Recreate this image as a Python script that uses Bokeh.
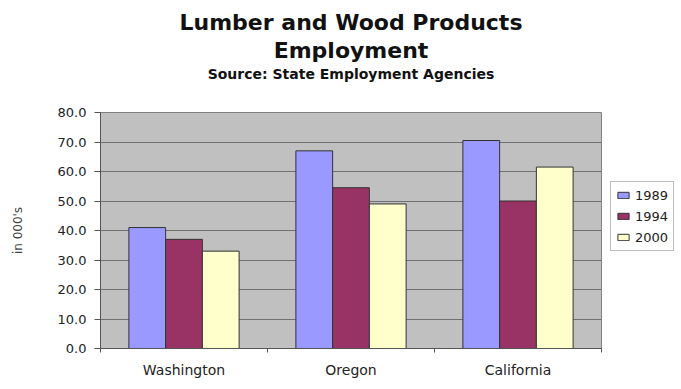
from bokeh.plotting import figure
from bokeh.models import (Range1d, Title, Legend, LegendItem,
                          ColumnDataSource, FixedTicker, NumeralTickFormatter,
                          LinearAxis)
from bokeh.transform import dodge
from bokeh.embed import file_html
from bokeh.resources import INLINE

# ---- data ----
states = ["Washington", "Oregon", "California"]
years = ["1989", "1994", "2000"]
emp_1989 = [41.0, 67.0, 70.5]
emp_1994 = [37.0, 54.5, 50.0]
emp_2000 = [33.0, 49.0, 61.5]
y_ticks = [0, 10, 20, 30, 40, 50, 60, 70, 80]

colors = ["#9999FF", "#993366", "#FFFFCC"]
FONT = "DejaVu Sans"

# category slots: each state occupies one unit on the x scale
centers = [i + 0.5 for i in range(len(states))]
boundaries = list(range(len(states) + 1))

source = ColumnDataSource(dict(state=states, xc=centers, y1989=emp_1989,
                               y1994=emp_1994, y2000=emp_2000))

p = figure(x_range=Range1d(0, len(states)),
           y_range=Range1d(0, 80),
           frame_width=501, frame_height=236,
           min_border_left=100, min_border_right=80,
           min_border_top=112, min_border_bottom=41,
           x_axis_location=None,
           output_backend="svg", toolbar_location=None, title=None)

p.background_fill_color = "#C0C0C0"
p.border_fill_color = "white"
p.outline_line_color = "#808080"
p.outline_line_width = 1

# titles (first added sits closest to the plot)
p.add_layout(Title(text=" ", text_font=FONT, text_font_size="25px", standoff=0), "above")
p.add_layout(Title(text="Source: State Employment Agencies", align="center",
                   text_font=FONT, text_font_size="14px", text_font_style="bold",
                   text_color="#111111", standoff=0), "above")
p.add_layout(Title(text="Employment", align="center",
                   text_font=FONT, text_font_size="22px", text_font_style="bold",
                   text_color="#111111", standoff=2), "above")
p.add_layout(Title(text="Lumber and Wood Products", align="center",
                   text_font=FONT, text_font_size="22px", text_font_style="bold",
                   text_color="#111111", standoff=0), "above")

offsets = [-0.22, 0.0, 0.22]
cols = ["y1989", "y1994", "y2000"]
renderers = []
for off, col, c in zip(offsets, cols, colors):
    r = p.vbar(x=dodge("xc", off), top=col, width=0.22,
               source=source, fill_color=c, line_color="#333333", line_width=1)
    renderers.append(r)

# y axis
p.yaxis.ticker = FixedTicker(ticks=y_ticks)
p.yaxis.formatter = NumeralTickFormatter(format="0.0")
p.yaxis.axis_label = "in 000's"
p.yaxis.axis_label_text_font = FONT
p.yaxis.axis_label_text_font_size = "12px"
p.yaxis.axis_label_text_font_style = "normal"
p.yaxis.axis_label_standoff = 30
p.yaxis.major_label_text_font = FONT
p.yaxis.major_label_text_font_size = "13px"
p.yaxis.major_label_text_color = "#222222"
p.yaxis.major_tick_out = 6
p.yaxis.major_tick_in = 0
p.yaxis.minor_tick_line_color = None
p.yaxis.major_label_standoff = 8
p.yaxis.axis_line_color = "#555555"
p.yaxis.major_tick_line_color = "#555555"

# x axis: boundary ticks (no labels) then category labels
tick_axis = LinearAxis(ticker=FixedTicker(ticks=boundaries),
                       major_label_overrides={b: "" for b in boundaries},
                       major_label_text_font_size="1px", major_label_standoff=0,
                       major_tick_out=4, major_tick_in=0,
                       minor_tick_line_color=None,
                       axis_line_color="#555555", major_tick_line_color="#555555")
p.add_layout(tick_axis, "below")

cat_axis = LinearAxis(ticker=FixedTicker(ticks=centers),
                      major_label_overrides={c: s for c, s in zip(centers, states)},
                      major_label_text_font=FONT, major_label_text_font_size="14px",
                      major_label_text_color="#222222",
                      major_tick_line_color=None, major_tick_out=0, major_tick_in=0,
                      minor_tick_line_color=None,
                      axis_line_color=None, major_label_standoff=9)
p.add_layout(cat_axis, "below")

p.xgrid.grid_line_color = None
p.ygrid.ticker = FixedTicker(ticks=y_ticks)
p.ygrid.grid_line_color = "#707070"
p.ygrid.grid_line_width = 1

legend = Legend(items=[LegendItem(label=y, renderers=[r]) for y, r in zip(years, renderers)],
                location=(9, 97), orientation="vertical",
                border_line_color="#808080", border_line_width=1,
                background_fill_color="white", background_fill_alpha=1,
                label_text_font=FONT, label_text_font_size="13px",
                label_text_color="#222222",
                glyph_width=14, glyph_height=8, label_standoff=5,
                label_height=16, spacing=5, padding=5, margin=0)
p.add_layout(legend, "right")

open("out.html", "w").write(file_html(p, INLINE))
